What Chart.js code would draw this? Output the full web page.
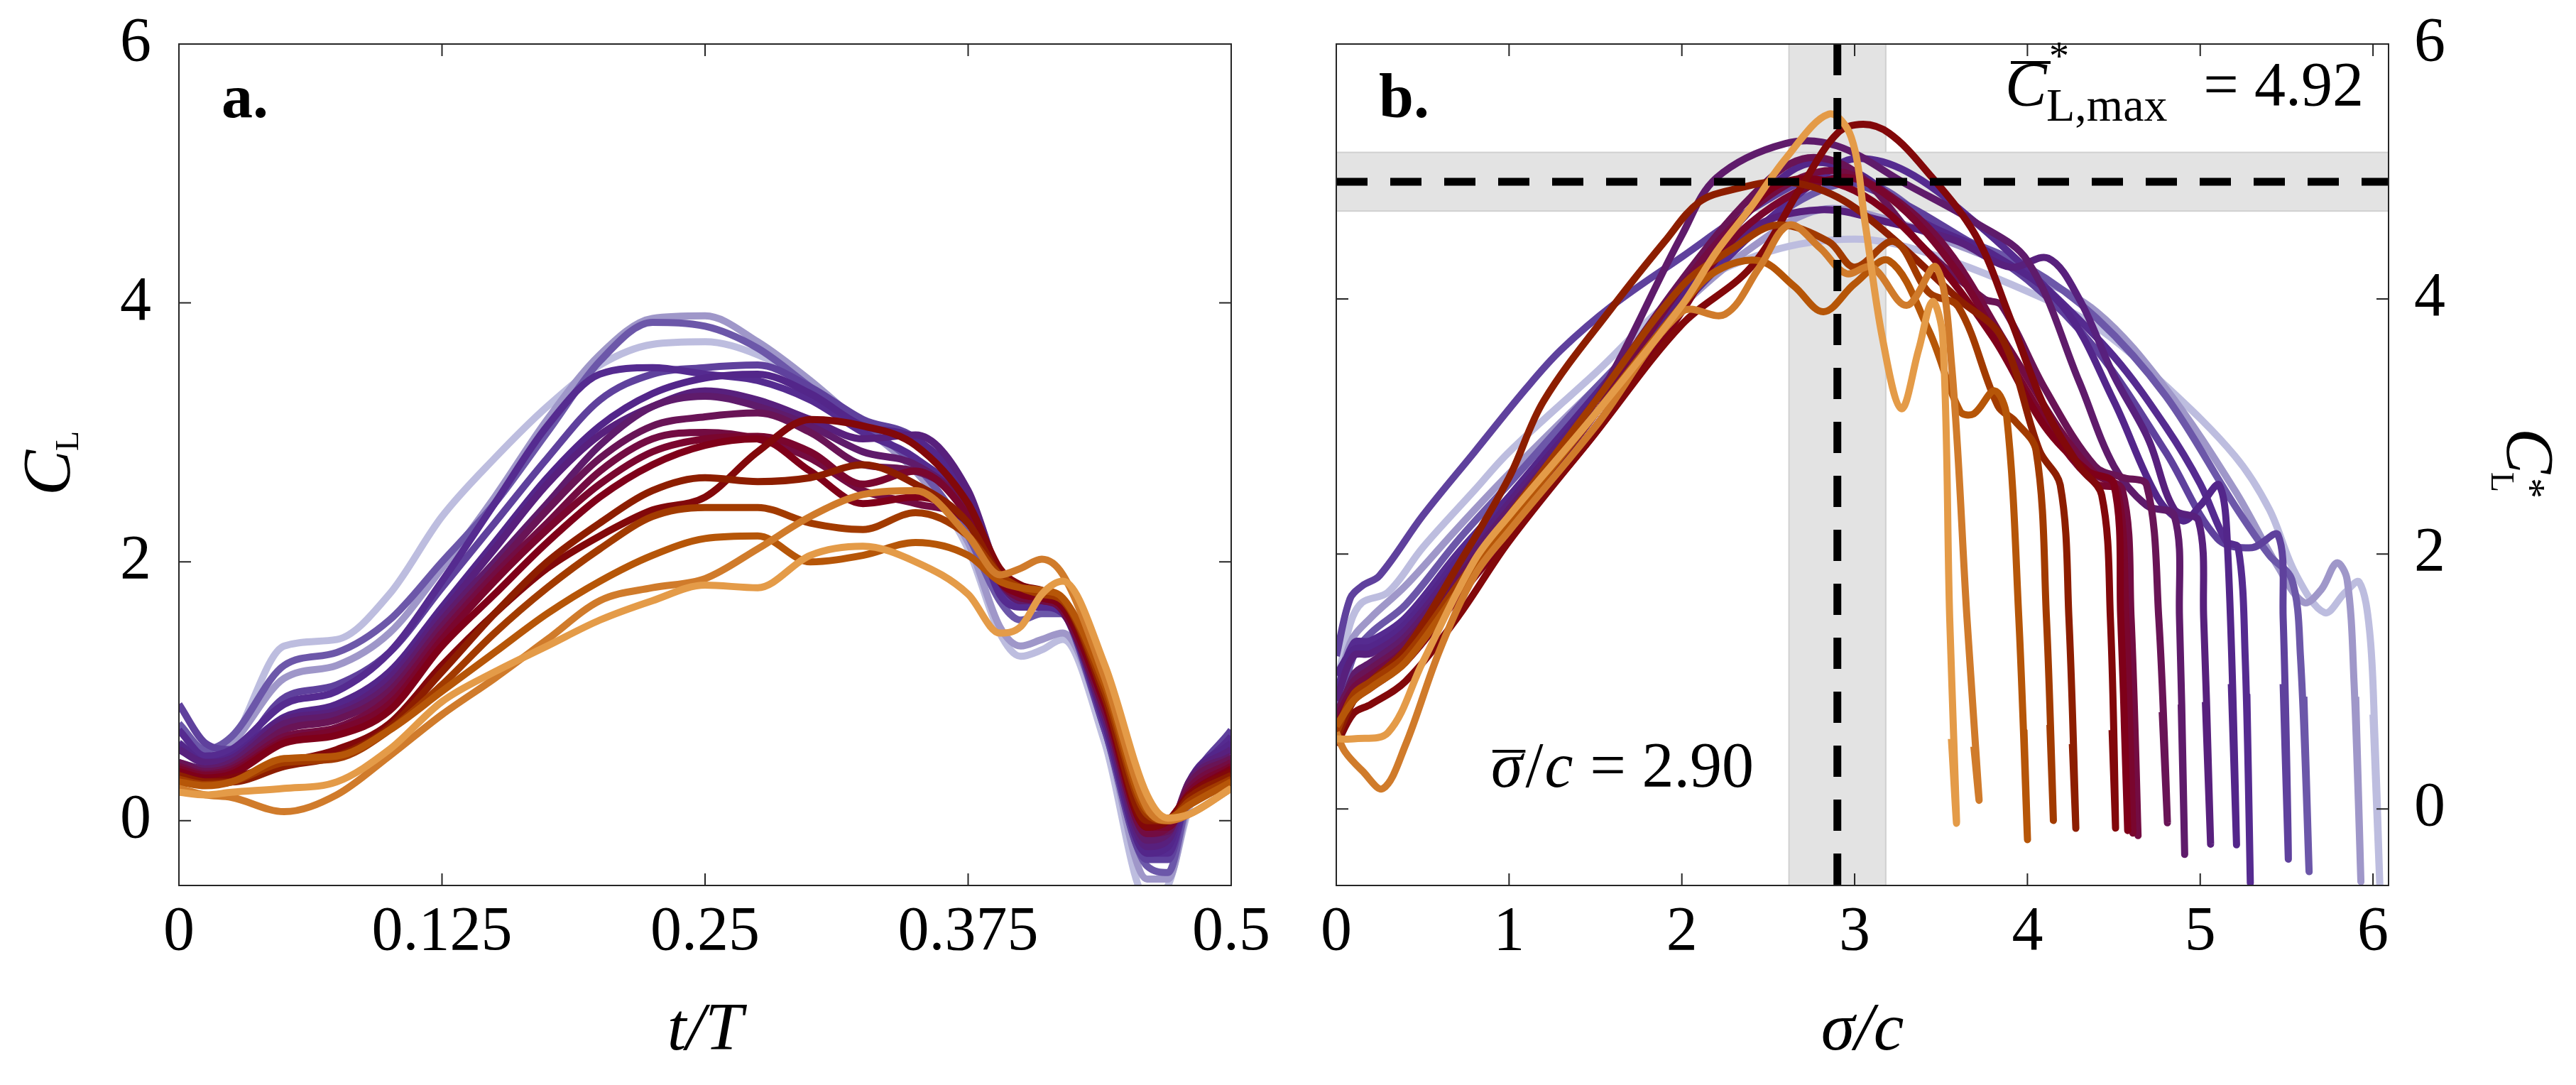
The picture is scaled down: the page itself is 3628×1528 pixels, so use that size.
<!DOCTYPE html>
<html>
<head>
<meta charset="utf-8">
<script src="https://cdn.jsdelivr.net/npm/chart.js@4.4.1/dist/chart.umd.min.js"></script>
<style>
  html, body { margin: 0; padding: 0; background: #fff; }
  #wrap { position: relative; width: 3628px; height: 1528px; overflow: hidden; }
  .panel { position: absolute; top: 0; height: 1528px; }
  #panelA { left: 0; width: 1800px; }
  #panelB { left: 1800px; width: 1828px; }
</style>
</head>
<body>
<div id="wrap">
  <div class="panel" id="panelA"><canvas id="chartA" width="1800" height="1528"></canvas></div>
  <div class="panel" id="panelB"><canvas id="chartB" width="1828" height="1528"></canvas></div>
</div>
<script>
// ---------- data, panel a: C_L against t/T (one row per run) ----------
const tGrid = [0, 0.0125, 0.025, 0.05, 0.075, 0.1, 0.125, 0.15, 0.175, 0.2, 0.225, 0.25, 0.275,
  0.3, 0.325, 0.35, 0.375, 0.39, 0.4, 0.41, 0.42, 0.44, 0.46, 0.47, 0.48, 0.5];

const clRun0 = [0.55, 0.45, 0.6, 1.35, 1.4, 1.75, 2.35, 2.8, 3.2, 3.52, 3.68, 3.7, 3.6, 3.38, 3.05, 2.7, 2.1, 1.45, 1.27, 1.32, 1.4, 0.6, -0.6, -0.5, 0.1, 0.65];
const clRun1 = [0.6, 0.5, 0.6, 1.1, 1.2, 1.45, 1.95, 2.5, 3.1, 3.6, 3.88, 3.9, 3.7, 3.4, 3.05, 2.7, 2.15, 1.5, 1.35, 1.4, 1.45, 0.7, -0.45, -0.45, 0.15, 0.65];
const clRun2 = [0.75, 0.55, 0.65, 1.2, 1.3, 1.55, 2.0, 2.45, 3.0, 3.55, 3.85, 3.82, 3.65, 3.35, 3.05, 2.75, 2.2, 1.7, 1.55, 1.6, 1.6, 0.7, -0.35, -0.4, 0.2, 0.68];
const clRun3 = [0.9, 0.6, 0.55, 0.95, 1.05, 1.3, 1.8, 2.3, 2.8, 3.25, 3.45, 3.5, 3.52, 3.35, 3.1, 2.95, 2.45, 1.8, 1.7, 1.7, 1.62, 0.7, -0.3, -0.3, 0.25, 0.7];
const clRun4 = [0.7, 0.5, 0.55, 0.9, 1.0, 1.3, 1.85, 2.45, 3.05, 3.45, 3.5, 3.45, 3.4, 3.25, 3.0, 2.8, 2.4, 1.75, 1.65, 1.65, 1.6, 0.75, -0.25, -0.25, 0.25, 0.65];
const clRun5 = [0.6, 0.45, 0.5, 0.8, 0.9, 1.15, 1.65, 2.15, 2.65, 3.05, 3.3, 3.42, 3.45, 3.3, 3.05, 2.95, 2.5, 1.85, 1.7, 1.72, 1.65, 0.75, -0.25, -0.2, 0.3, 0.6];
const clRun6 = [0.55, 0.45, 0.48, 0.78, 0.85, 1.1, 1.6, 2.1, 2.6, 2.98, 3.2, 3.32, 3.25, 3.1, 2.95, 2.98, 2.55, 1.9, 1.72, 1.72, 1.65, 0.8, -0.2, -0.15, 0.3, 0.55];
const clRun7 = [0.45, 0.4, 0.45, 0.75, 0.82, 1.05, 1.55, 2.0, 2.45, 2.9, 3.2, 3.28, 3.2, 3.05, 2.85, 2.75, 2.4, 1.85, 1.7, 1.7, 1.62, 0.8, -0.15, -0.1, 0.3, 0.5];
const clRun8 = [0.45, 0.38, 0.42, 0.7, 0.78, 1.0, 1.5, 1.95, 2.4, 2.8, 3.05, 3.12, 3.15, 3.0, 2.75, 2.7, 2.4, 1.85, 1.72, 1.7, 1.62, 0.85, -0.1, -0.08, 0.28, 0.48];
const clRun9 = [0.42, 0.36, 0.4, 0.65, 0.72, 0.95, 1.45, 1.9, 2.3, 2.7, 2.95, 3.0, 2.95, 2.8, 2.55, 2.45, 2.3, 1.85, 1.72, 1.7, 1.62, 0.85, -0.1, -0.05, 0.25, 0.45];
const clRun10 = [0.4, 0.35, 0.38, 0.62, 0.7, 0.9, 1.4, 1.85, 2.25, 2.6, 2.85, 2.95, 2.97, 2.85, 2.6, 2.7, 2.35, 1.85, 1.75, 1.72, 1.65, 0.9, -0.05, -0.05, 0.22, 0.42];
const clRun11 = [0.38, 0.33, 0.36, 0.6, 0.66, 0.85, 1.35, 1.75, 2.15, 2.5, 2.75, 2.9, 2.95, 2.7, 2.45, 2.5, 2.3, 1.85, 1.75, 1.72, 1.65, 0.9, -0.05, 0.0, 0.2, 0.4];
const clRun12 = [0.35, 0.3, 0.33, 0.45, 0.55, 0.75, 1.2, 1.6, 1.95, 2.2, 2.4, 2.5, 2.85, 3.1, 3.05, 2.9, 2.45, 1.95, 1.82, 1.78, 1.7, 0.95, -0.05, 0.0, 0.2, 0.38];
const clRun13 = [0.35, 0.3, 0.3, 0.42, 0.5, 0.72, 1.15, 1.6, 2.0, 2.3, 2.55, 2.65, 2.62, 2.65, 2.75, 2.6, 2.3, 1.9, 1.8, 1.75, 1.7, 0.95, 0.0, 0.0, 0.18, 0.35];
const clRun14 = [0.32, 0.28, 0.3, 0.45, 0.48, 0.7, 1.05, 1.45, 1.8, 2.1, 2.35, 2.42, 2.42, 2.3, 2.25, 2.38, 2.2, 1.9, 1.8, 1.75, 1.7, 1.0, 0.05, 0.0, 0.15, 0.32];
const clRun15 = [0.3, 0.27, 0.3, 0.48, 0.5, 0.7, 1.0, 1.3, 1.6, 1.85, 2.05, 2.18, 2.2, 2.0, 2.05, 2.15, 2.05, 1.85, 1.8, 1.78, 1.72, 1.05, 0.08, 0.02, 0.12, 0.3];
const clRun16 = [0.25, 0.2, 0.18, 0.07, 0.2, 0.5, 0.82, 1.1, 1.4, 1.7, 1.8, 1.87, 2.1, 2.35, 2.52, 2.55, 2.2, 1.9, 1.95, 2.02, 1.9, 1.1, 0.1, 0.0, 0.05, 0.25];
const clRun17 = [0.22, 0.2, 0.22, 0.25, 0.3, 0.55, 0.92, 1.15, 1.35, 1.55, 1.7, 1.82, 1.8, 2.05, 2.12, 2.0, 1.75, 1.45, 1.5, 1.75, 1.85, 1.2, 0.2, 0.02, 0.05, 0.25];

// ---------- data, panel b: C_L* against sigma/c, [sigma/c, C_L*] ----------
const starRun0 = [[0, 0.95], [0.08, 1.45], [0.15, 1.62], [0.3, 1.7], [0.5, 2.05], [0.8, 2.5], [1.0, 2.8], [1.5, 3.42], [2.0, 4.05], [2.5, 4.37], [3.0, 4.47], [3.4, 4.37], [4.0, 4.06], [4.4, 3.78], [4.8, 3.32], [5.2, 2.77], [5.4, 2.35], [5.55, 1.85], [5.72, 1.54], [5.84, 1.7], [5.92, 1.78], [5.98, 1.4], [6.01, 0.6], [6.04, -0.62], [6.0, 0.74]];
const starRun1 = [[0, 0.8], [0.08, 1.3], [0.2, 1.5], [0.4, 1.75], [0.7, 2.2], [1.0, 2.63], [1.5, 3.3], [2.0, 3.95], [2.4, 4.4], [2.8, 4.7], [3.2, 4.62], [3.6, 4.42], [4.0, 4.2], [4.4, 3.9], [4.8, 3.3], [5.2, 2.5], [5.45, 1.9], [5.6, 1.62], [5.7, 1.72], [5.79, 1.93], [5.85, 1.8], [5.89, 1.0], [5.93, -0.57], [5.9, 0.88]];
const starRun2 = [[0, 0.7], [0.1, 1.2], [0.2, 1.38], [0.4, 1.6], [0.7, 2.1], [1.0, 2.55], [1.5, 3.3], [2.0, 3.98], [2.4, 4.5], [2.8, 4.85], [3.1, 4.9], [3.5, 4.55], [4.0, 4.25], [4.4, 3.85], [4.8, 3.24], [5.2, 2.38], [5.4, 1.99], [5.53, 1.8], [5.58, 1.2], [5.63, -0.49], [5.6, 0.88]];
const starRun3 = [[0, 1.2], [0.08, 1.65], [0.15, 1.75], [0.25, 1.83], [0.5, 2.3], [0.8, 2.8], [1.1, 3.3], [1.3, 3.6], [1.6, 3.95], [2.0, 4.33], [2.4, 4.7], [2.8, 4.95], [3.2, 4.8], [3.6, 4.5], [4.0, 4.15], [4.4, 3.6], [4.8, 2.8], [5.1, 2.12], [5.3, 2.05], [5.45, 2.15], [5.48, 1.5], [5.51, -0.39], [5.48, 0.98]];
const starRun4 = [[0, 0.9], [0.1, 1.3], [0.2, 1.32], [0.4, 1.5], [0.7, 2.0], [1.0, 2.45], [1.5, 3.2], [2.0, 3.95], [2.4, 4.5], [2.8, 4.95], [3.0, 5.1], [3.3, 5.0], [3.7, 4.6], [4.1, 4.1], [4.5, 3.55], [4.8, 3.0], [5.0, 2.55], [5.15, 2.1], [5.22, 2.05], [5.26, 1.2], [5.29, -0.58], [5.27, 0.9]];
const starRun5 = [[0, 1.05], [0.1, 1.25], [0.2, 1.27], [0.4, 1.45], [0.7, 1.95], [1.0, 2.45], [1.5, 3.25], [2.0, 4.05], [2.4, 4.7], [2.7, 5.05], [3.0, 5.0], [3.4, 4.6], [3.8, 4.35], [4.2, 3.95], [4.5, 3.2], [4.75, 2.45], [4.9, 2.26], [5.0, 2.38], [5.11, 2.54], [5.16, 2.0], [5.21, -0.27], [5.18, 0.98]];
const starRun6 = [[0, 0.85], [0.1, 1.2], [0.2, 1.22], [0.4, 1.4], [0.7, 1.9], [1.0, 2.4], [1.5, 3.2], [2.0, 4.0], [2.4, 4.55], [2.8, 4.7], [3.2, 4.6], [3.6, 4.45], [3.9, 4.25], [4.12, 4.32], [4.3, 4.0], [4.5, 3.4], [4.7, 2.9], [4.85, 2.35], [4.99, 2.26], [5.02, 1.5], [5.06, -0.27], [5.03, 0.84]];
const starRun7 = [[0, 0.6], [0.1, 1.05], [0.2, 1.15], [0.4, 1.35], [0.7, 1.85], [1.0, 2.35], [1.5, 3.2], [2.0, 4.5], [2.2, 4.95], [2.6, 5.22], [2.9, 5.2], [3.3, 4.9], [3.7, 4.6], [4.0, 4.3], [4.3, 3.35], [4.5, 2.69], [4.69, 2.38], [4.85, 2.3], [4.88, 1.5], [4.91, -0.35], [4.89, 0.82]];
const starRun8 = [[0, 0.75], [0.1, 1.0], [0.2, 1.1], [0.4, 1.3], [0.7, 1.8], [1.0, 2.3], [1.5, 3.2], [2.0, 4.15], [2.4, 4.8], [2.7, 5.1], [3.0, 5.0], [3.4, 4.4], [3.75, 4.0], [3.85, 3.95], [4.1, 3.3], [4.39, 2.69], [4.55, 2.6], [4.69, 2.54], [4.76, 1.5], [4.81, -0.1], [4.78, 0.76]];
const starRun9 = [[0, 0.7], [0.1, 0.95], [0.2, 1.05], [0.4, 1.25], [0.7, 1.75], [1.0, 2.25], [1.5, 3.1], [2.0, 4.1], [2.4, 4.7], [2.8, 5.0], [3.1, 4.9], [3.5, 4.45], [3.9, 3.6], [4.2, 2.95], [4.4, 2.62], [4.55, 2.5], [4.6, 1.5], [4.64, -0.2], [4.62, 0.7]];
const starRun10 = [[0, 0.65], [0.1, 0.9], [0.2, 1.0], [0.4, 1.2], [0.7, 1.7], [1.0, 2.2], [1.5, 3.0], [2.0, 3.95], [2.4, 4.6], [2.9, 4.95], [3.2, 4.8], [3.6, 4.2], [3.9, 3.5], [4.2, 2.85], [4.4, 2.55], [4.52, 2.5], [4.57, 1.5], [4.61, -0.18], [4.59, 0.72]];
const starRun11 = [[0, 0.6], [0.1, 0.85], [0.2, 0.95], [0.4, 1.15], [0.7, 1.65], [1.0, 2.15], [1.5, 2.95], [2.0, 3.9], [2.3, 4.55], [2.6, 4.92], [3.0, 4.85], [3.4, 4.4], [3.8, 3.7], [4.1, 3.0], [4.35, 2.65], [4.5, 2.55], [4.54, 1.5], [4.58, -0.16], [4.56, 0.7]];
const starRun12 = [[0, 0.5], [0.1, 0.75], [0.2, 0.82], [0.4, 1.0], [0.7, 1.5], [1.0, 2.1], [1.5, 2.95], [2.0, 3.8], [2.4, 4.25], [2.7, 4.9], [2.9, 5.3], [3.05, 5.37], [3.2, 5.3], [3.4, 5.03], [3.7, 4.5], [3.9, 3.85], [4.1, 3.15], [4.3, 2.69], [4.43, 2.46], [4.48, 1.5], [4.51, -0.14], [4.49, 0.62]];
const starRun13 = [[0, 0.55], [0.1, 0.85], [0.2, 1.0], [0.4, 1.25], [0.7, 1.9], [1.0, 2.6], [1.2, 3.2], [1.6, 3.94], [1.9, 4.45], [2.1, 4.76], [2.3, 4.86], [2.6, 4.92], [2.9, 4.8], [3.2, 4.5], [3.6, 4.0], [3.85, 3.7], [4.07, 2.81], [4.19, 2.54], [4.24, 1.5], [4.28, -0.14], [4.26, 0.51]];
const starRun14 = [[0, 0.6], [0.1, 0.9], [0.2, 1.0], [0.4, 1.2], [0.7, 1.75], [1.0, 2.3], [1.5, 3.2], [2.0, 4.1], [2.3, 4.4], [2.55, 4.58], [2.85, 4.45], [3.0, 4.25], [3.23, 4.45], [3.43, 4.05], [3.6, 3.94], [3.83, 3.16], [3.93, 3.04], [4.05, 2.81], [4.11, 1.5], [4.15, -0.08], [4.13, 0.66]];
const starRun15 = [[0, 0.65], [0.1, 0.85], [0.2, 0.95], [0.4, 1.15], [0.7, 1.7], [1.0, 2.25], [1.5, 3.1], [2.0, 3.95], [2.2, 4.22], [2.45, 4.3], [2.65, 4.1], [2.82, 3.9], [3.0, 4.12], [3.2, 4.3], [3.43, 3.75], [3.61, 3.12], [3.69, 3.1], [3.81, 3.28], [3.88, 3.08], [3.95, 1.5], [4.0, -0.23], [3.98, 0.62]];
const starRun16 = [[0, 0.6], [0.05, 0.45], [0.15, 0.3], [0.27, 0.16], [0.4, 0.5], [0.6, 1.25], [0.8, 1.83], [1.0, 2.18], [1.5, 3.0], [2.0, 3.9], [2.25, 3.88], [2.45, 4.25], [2.62, 4.58], [2.8, 4.4], [2.95, 4.2], [3.1, 4.25], [3.3, 3.95], [3.47, 4.25], [3.56, 3.5], [3.65, 1.5], [3.72, 0.08], [3.69, 0.49]];
const starRun17 = [[0, 0.55], [0.1, 0.55], [0.3, 0.6], [0.5, 1.15], [0.8, 1.95], [1.0, 2.3], [1.5, 3.1], [2.0, 3.95], [2.2, 4.37], [2.4, 4.72], [2.6, 5.1], [2.85, 5.45], [2.98, 5.27], [3.06, 4.6], [3.16, 3.7], [3.27, 3.14], [3.37, 3.6], [3.45, 3.98], [3.51, 3.7], [3.55, 1.5], [3.59, -0.1], [3.56, 0.55]];

// ---------- axes ----------
const leftXTicks = [0, 0.125, 0.25, 0.375, 0.5];
const leftXTickLabels = ['0', '0.125', '0.25', '0.375', '0.5'];
const rightXTicks = [0, 1, 2, 3, 4, 5, 6];
const rightXTickLabels = ['0', '1', '2', '3', '4', '5', '6'];
const yTicks = [0, 2, 4, 6];
const yTickLabels = ['0', '2', '4', '6'];

// mean and spread marked in panel b
const meanSigma = 2.90;
const sigmaBand = [2.62, 3.18];
const meanCLmax = 4.92;
const clmaxBand = [4.69, 5.15];

// ---------- styling ----------
// a single quoted family: a fallback list made the canvas drop to a sans face
const SERIF = "'Liberation Serif'";
const runColors = ['#bdbddf', '#9f97c9', '#6c57a9', '#5f419d', '#552b90', '#53268a', '#58207d', '#5f1b6b', '#691456',
  '#730c42', '#7a062e', '#7f0019', '#82080a', '#8d1e00', '#a23b00', '#b65608', '#d07b2b', '#e49b48'];

const leftSeries = [clRun0, clRun1, clRun2, clRun3, clRun4, clRun5, clRun6, clRun7, clRun8,
  clRun9, clRun10, clRun11, clRun12, clRun13, clRun14, clRun15, clRun16, clRun17];
const rightSeries = [starRun0, starRun1, starRun2, starRun3, starRun4, starRun5, starRun6, starRun7, starRun8,
  starRun9, starRun10, starRun11, starRun12, starRun13, starRun14, starRun15, starRun16, starRun17];

Chart.defaults.font.family = SERIF;

function fixTicks(values) {
  return function (scale) { scale.ticks = values.map(v => ({ value: v })); };
}
function tickText(values, labels) {
  return function (value) {
    const i = values.indexOf(value);
    return i < 0 ? '' : labels[i];
  };
}
// fixed axis thickness, and no extra room for labels that overhang the plot box
function fitX(height) {
  return function (s) { s.height = height; s.paddingLeft = 0; s.paddingRight = 0; };
}
function fitY(width) {
  return function (s) { s.width = width; s.paddingTop = 0; s.paddingBottom = 0; };
}

// box around the plot, inward ticks on all four sides, bands and dashed lines for panel b
const framePlugin = {
  id: 'frame',
  beforeDatasetsDraw(chart, args, opts) {
    if (!opts.bands) return;
    const { ctx, chartArea: a, scales: { x, y } } = chart;
    ctx.save();
    ctx.fillStyle = '#e3e3e3';
    ctx.strokeStyle = '#d0d0d0';
    ctx.lineWidth = 2;
    const x0 = x.getPixelForValue(sigmaBand[0]);
    const x1 = x.getPixelForValue(sigmaBand[1]);
    ctx.fillRect(x0, a.top, x1 - x0, a.bottom - a.top);
    ctx.strokeRect(x0, a.top, x1 - x0, a.bottom - a.top);
    const y0 = y.getPixelForValue(clmaxBand[1]);
    const y1 = y.getPixelForValue(clmaxBand[0]);
    ctx.fillRect(a.left, y0, a.right - a.left, y1 - y0);
    ctx.strokeRect(a.left, y0, a.right - a.left, y1 - y0);
    ctx.restore();
  },
  afterDatasetsDraw(chart, args, opts) {
    const { ctx, chartArea: a, scales: { x, y } } = chart;
    ctx.save();
    if (opts.bands) {
      ctx.strokeStyle = '#000';
      ctx.lineWidth = 11;
      ctx.setLineDash([44, 32]);
      const xm = x.getPixelForValue(meanSigma);
      ctx.beginPath();
      ctx.moveTo(xm, a.top);
      ctx.lineTo(xm, a.bottom);
      ctx.stroke();
      const ym = y.getPixelForValue(meanCLmax);
      ctx.beginPath();
      ctx.moveTo(a.left, ym);
      ctx.lineTo(a.right, ym);
      ctx.stroke();
      ctx.setLineDash([]);
    }
    ctx.strokeStyle = '#262626';
    ctx.lineWidth = 2;
    ctx.strokeRect(a.left, a.top, a.right - a.left, a.bottom - a.top);
    const tl = 17;
    ctx.beginPath();
    x.ticks.forEach(t => {
      const px = x.getPixelForValue(t.value);
      ctx.moveTo(px, a.bottom); ctx.lineTo(px, a.bottom - tl);
      ctx.moveTo(px, a.top); ctx.lineTo(px, a.top + tl);
    });
    y.ticks.forEach(t => {
      const py = y.getPixelForValue(t.value);
      ctx.moveTo(a.left, py); ctx.lineTo(a.left + tl, py);
      ctx.moveTo(a.right, py); ctx.lineTo(a.right - tl, py);
    });
    ctx.stroke();
    ctx.fillStyle = '#000';
    ctx.font = 'bold 88px ' + SERIF;
    ctx.textAlign = 'left';
    ctx.textBaseline = 'alphabetic';
    ctx.fillText(opts.letter, a.left + 60, 165);
    ctx.restore();
  },
  afterDraw(chart, args, opts) {
    if (opts.draw) opts.draw(chart);
  }
};

function drawLeftTitle(chart) {
  const ctx = chart.ctx;
  ctx.save();
  ctx.fillStyle = '#000';
  ctx.translate(98, 698);
  ctx.rotate(-Math.PI / 2);
  ctx.textBaseline = 'alphabetic';
  ctx.textAlign = 'left';
  ctx.font = 'italic 96px ' + SERIF;
  ctx.fillText('C', 0, 0);
  ctx.font = '46px ' + SERIF;
  ctx.fillText('L', 63, 12);
  ctx.restore();
}

function drawRightExtras(chart) {
  const ctx = chart.ctx;
  const a = chart.chartArea;
  ctx.save();
  ctx.fillStyle = '#000';
  ctx.strokeStyle = '#000';
  ctx.textBaseline = 'alphabetic';
  ctx.textAlign = 'left';

  // right axis title C_L*
  ctx.save();
  ctx.translate(1731, 603);
  ctx.rotate(Math.PI / 2);
  ctx.font = 'italic 96px ' + SERIF;
  ctx.fillText('C', 0, 0);
  ctx.font = '46px ' + SERIF;
  ctx.fillText('L', 62, 22);
  ctx.font = '58px ' + SERIF;
  ctx.fillText('*', 70, -14);
  ctx.restore();

  // mean maximum lift label, top right
  const cx = a.left + 942;
  ctx.font = 'italic 88px ' + SERIF;
  ctx.fillText('C', cx, 148);
  ctx.lineWidth = 4;
  ctx.beginPath();
  ctx.moveTo(cx + 8, 88);
  ctx.lineTo(cx + 64, 88);
  ctx.stroke();
  ctx.font = '56px ' + SERIF;
  ctx.fillText('*', cx + 62, 98);
  ctx.font = '66px ' + SERIF;
  ctx.fillText('L,max', cx + 58, 170);
  ctx.font = '88px ' + SERIF;
  ctx.textAlign = 'right';
  ctx.fillText('= 4.92', a.right - 35, 148);

  // mean stroke distance label, lower left
  const sx = a.left + 218;
  ctx.textAlign = 'left';
  ctx.font = 'italic 90px ' + SERIF;
  ctx.fillText('σ', sx, 1108);
  const wSig = ctx.measureText('σ').width;
  ctx.beginPath();
  ctx.moveTo(sx + 2, 1058);
  ctx.lineTo(sx + wSig + 4, 1058);
  ctx.stroke();
  ctx.font = '90px ' + SERIF;
  ctx.fillText('/', sx + wSig + 4, 1108);
  const wSl = ctx.measureText('/').width;
  ctx.font = 'italic 90px ' + SERIF;
  ctx.fillText('c', sx + wSig + wSl + 6, 1108);
  const wC = ctx.measureText('c').width;
  ctx.font = '90px ' + SERIF;
  ctx.fillText('= 2.90', sx + wSig + wSl + wC + 30, 1108);
  ctx.restore();
}

const tickFont = { family: SERIF, size: 88 };
const titleFont = { family: SERIF, size: 96, style: 'italic' };

function commonOptions() {
  return {
    responsive: false,
    animation: false,
    events: [],
    elements: { point: { radius: 0 } }
  };
}

// ---------- panel a ----------
new Chart(document.getElementById('chartA'), {
  type: 'line',
  data: {
    datasets: leftSeries.map((vals, i) => ({
      data: tGrid.map((t, k) => ({ x: t, y: vals[k] })),
      borderColor: runColors[i],
      borderWidth: 10,
      pointRadius: 0,
      cubicInterpolationMode: 'monotone',
      fill: false,
      clip: 0,
      order: runColors.length - i
    }))
  },
  options: Object.assign(commonOptions(), {
    layout: { padding: { top: 62, right: 66, left: 0, bottom: 0 } },
    scales: {
      x: {
        type: 'linear', min: 0, max: 0.5,
        afterBuildTicks: fixTicks(leftXTicks),
        afterFit: fitX(281),
        grid: { display: false, drawTicks: false },
        border: { display: false },
        ticks: { font: tickFont, color: '#000', padding: 14, maxRotation: 0, autoSkip: false,
          callback: tickText(leftXTicks, leftXTickLabels) },
        title: { display: true, text: 't/T', color: '#000', font: titleFont, padding: { top: 0, bottom: 18 } }
      },
      y: {
        type: 'linear', min: -0.5, max: 6,
        afterBuildTicks: fixTicks(yTicks),
        afterFit: fitY(252),
        grid: { display: false, drawTicks: false },
        border: { display: false },
        ticks: { font: tickFont, color: '#000', padding: 39, autoSkip: false,
          callback: tickText(yTicks, yTickLabels) }
      }
    },
    plugins: {
      legend: { display: false }, tooltip: { enabled: false },
      frame: { letter: 'a.', bands: false, draw: drawLeftTitle }
    }
  }),
  plugins: [framePlugin]
});

// ---------- panel b ----------
new Chart(document.getElementById('chartB'), {
  type: 'line',
  data: {
    datasets: rightSeries.map((pts, i) => ({
      data: pts.map(p => ({ x: p[0], y: p[1] })),
      borderColor: runColors[i],
      borderWidth: 10,
      pointRadius: 0,
      tension: 0.35,
      fill: false,
      clip: 0,
      order: runColors.length - i
    }))
  },
  options: Object.assign(commonOptions(), {
    layout: { padding: { top: 62, right: 0, left: 82, bottom: 0 } },
    scales: {
      x: {
        type: 'linear', min: 0, max: 6.09,
        afterBuildTicks: fixTicks(rightXTicks),
        afterFit: fitX(281),
        grid: { display: false, drawTicks: false },
        border: { display: false },
        ticks: { font: tickFont, color: '#000', padding: 14, maxRotation: 0, autoSkip: false,
          callback: tickText(rightXTicks, rightXTickLabels) },
        title: { display: true, text: 'σ/c', color: '#000', font: titleFont, padding: { top: 0, bottom: 18 } }
      },
      y: {
        type: 'linear', position: 'right', min: -0.6, max: 6,
        afterBuildTicks: fixTicks(yTicks),
        afterFit: fitY(264),
        grid: { display: false, drawTicks: false },
        border: { display: false },
        ticks: { font: tickFont, color: '#000', padding: 36, autoSkip: false,
          callback: tickText(yTicks, yTickLabels) }
      }
    },
    plugins: {
      legend: { display: false }, tooltip: { enabled: false },
      frame: { letter: 'b.', bands: true, draw: drawRightExtras }
    }
  }),
  plugins: [framePlugin]
});
</script>
</body>
</html>
